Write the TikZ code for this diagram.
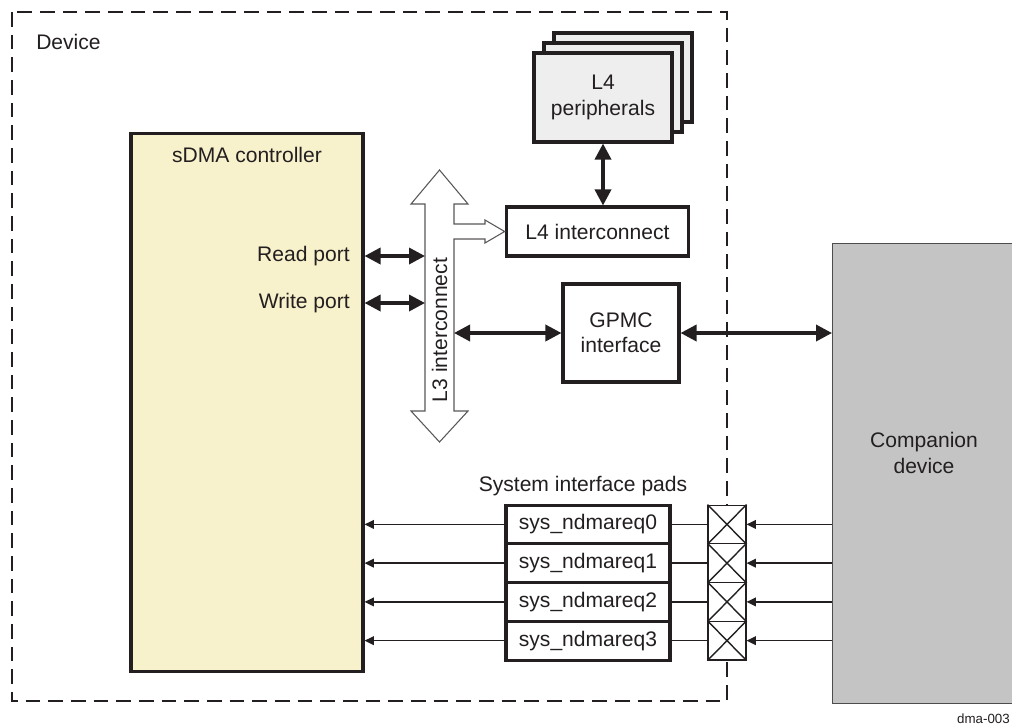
\documentclass[tikz,border=0pt]{standalone}
\usepackage{fontspec}
\setmainfont{Liberation Sans}
\usetikzlibrary{arrows.meta,positioning,calc}
\definecolor{Ink}{HTML}{231F20}
\definecolor{Sdma}{HTML}{F8F2CC}
\definecolor{Comp}{HTML}{C4C4C4}
\definecolor{Periph}{HTML}{EEEEEE}
\tikzset{
  blk/.style={draw=Ink,line width=2.3pt,fill=white,inner sep=0pt,font=\fontsize{15.8}{19}\selectfont,text=Ink,align=center},
  lbl/.style={font=\fontsize{15.8}{19}\selectfont,text=Ink,inner sep=0pt},
  bus/.style={Ink,line width=2.6pt,{Triangle[length=12pt,width=12pt]}-{Triangle[length=12pt,width=12pt]}},
  sig/.style={Ink,line width=1.05pt,-{Triangle[length=7pt,width=6.5pt]}},
  wire/.style={Ink,line width=1.05pt},
  pad/.style={draw=Ink,line width=0.8pt,fill=white,minimum width=28.5pt,minimum height=29pt,inner sep=0pt},
}

\begin{document}
\begin{tikzpicture}[x=0.75pt,y=-0.75pt]
\useasboundingbox (0,0) rectangle (1012,725);
\clip (0,0) rectangle (1012,725);
\fill[white] (0,0) rectangle (1012,725);
% device outline
\draw[Ink,line width=1.6pt,dash pattern=on 11pt off 6pt] (12,12) rectangle (727,701);
\node[lbl,anchor=west] (dev) at (36,42) {Device};
% sDMA controller
\node[blk,fill=Sdma,minimum width=174pt,minimum height=404pt] (sdma) at (247,402.5) {};
\node[lbl] (sdmat) at (247,155) {sDMA controller};
\node[lbl,anchor=east] (rport) at (350,256) {Read port};
\node[lbl,anchor=east] (wport) at (350,303) {Write port};
% L4 side
\foreach \d in {20,10}
  \node[blk,fill=Periph,minimum width=103.5pt,minimum height=66.75pt] (l4pb\d) at ({603+\d},{97.5-\d}) {};
\node[blk,fill=Periph,minimum width=103.5pt,minimum height=66.75pt] (l4p) at (603,97.5) {L4\\peripherals};
\node[blk,minimum width=137pt,minimum height=36.75pt] (l4i) at (597.5,231.5) {L4 interconnect};
\node[blk,minimum width=87pt,minimum height=73.5pt] (gpmc) at (621,333) {GPMC\\interface};
% companion device
\node[draw=Ink!80,line width=1pt,fill=Comp,minimum width=150pt,minimum height=345pt,anchor=north west] (comp) at (832,243) {};
\node[lbl,align=center] (compt) at (924,453) {Companion\\device};
% L3 interconnect
\coordinate (l3L) at (425,0);
\coordinate (l3R) at (454,0);
\draw[Ink!75,line width=0.8pt,fill=white] (425,204) -- (411,204) -- (439.5,170) -- (468,204) -- (454,204)
  -- (454,224) -- (485,224) -- (485,220) -- (l4i.west) -- (485,243) -- (485,239) -- (454,239)
  -- (454,411) -- (468,411) -- (439.5,442) -- (411,411) -- (425,411) -- cycle;
\node[lbl,rotate=90] (l3t) at (439.5,330) {L3 interconnect};
\draw[bus] (sdma.east |- rport.east) -- (l3L |- rport.east);
\draw[bus] (sdma.east |- wport.east) -- (l3L |- wport.east);
\draw[bus] (l3R |- gpmc.west) -- (gpmc.west);
\draw[bus] (gpmc.east) -- (comp.west |- gpmc.east);
\draw[bus] (l4p.south) -- (l4p.south |- l4i.north);
% system interface pads
\node[lbl] (pads) at (583,486) {System interface pads};
\foreach \i in {0,...,3} {
  \node[blk,minimum width=123pt,minimum height=29.06pt] (req\i) at (588,{524.4+38.75*\i}) {sys\_ndmareq\i};
  \node[pad] (pad\i) at (727,{524.4+38.75*\i}) {};
  \draw[wire] (pad\i.north west) -- (pad\i.south east) (pad\i.south west) -- (pad\i.north east);
  \draw[sig] (req\i.west) -- (sdma.east |- req\i.west);
  \draw[wire] (req\i.east) -- (pad\i.west);
  \draw[sig] (comp.west |- pad\i.east) -- (pad\i.east);
}
\node[font=\fontsize{10}{12}\selectfont,text=Ink,anchor=east,inner sep=0pt] (fig) at (1010,719) {dma-003};
\end{tikzpicture}
\end{document}
